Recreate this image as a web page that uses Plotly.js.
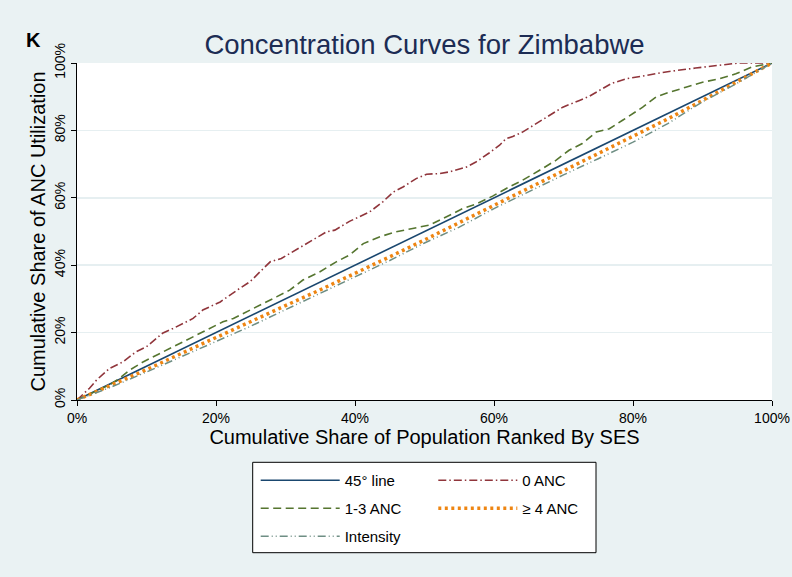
<!DOCTYPE html>
<html>
<head>
<meta charset="utf-8">
<script src="https://cdn.plot.ly/plotly-3.0.1.min.js"></script>
<style>
  html, body { margin: 0; padding: 0; background: #eaf2f3; }
  #chart { width: 792px; height: 577px; }
</style>
</head>
<body>
<div id="chart"></div>
<script>
// Cumulative share of population (x, %) and of ANC utilization (y, %)
const lineX = [0, 100];
const lineY = [0, 100];

const anc0X = [0, 1.8, 2.8, 4.7, 6.6, 8.5, 10.0, 12.3, 13.8, 15.7, 16.7, 18.1, 19.3, 20.6, 23.4, 24.9, 26.8, 27.8, 29.4, 31.1, 33.5, 35.9, 37.1, 39.2, 42.1, 44.0, 45.5, 46.9, 48.8, 50.3, 52.2, 53.6, 56.0, 57.4, 59.3, 60.8, 61.7, 62.7, 64.1, 66.5, 68.0, 69.9, 72.3, 73.7, 75.6, 77.0, 79.0, 80.4, 82.3, 85.2, 89.0, 91.4, 93.8, 95.2, 100];
const anc0Y = [0, 3.5, 5.9, 9.4, 11.3, 14.3, 15.8, 19.8, 21.2, 23.2, 24.2, 26.7, 27.9, 29.1, 33.1, 35.1, 39.0, 41.0, 42.0, 44.0, 46.9, 49.9, 50.4, 53.0, 55.8, 58.8, 61.7, 63.2, 65.7, 67.0, 67.2, 67.7, 69.1, 70.6, 73.3, 75.6, 77.5, 78.2, 79.5, 82.5, 84.4, 86.9, 88.9, 90.1, 92.4, 94.0, 95.3, 95.8, 96.3, 97.5, 98.5, 99.0, 99.7, 100, 100];

const anc13X = [0, 2.5, 4.7, 6.1, 7.6, 9.5, 11.4, 13.8, 15.7, 18.1, 19.8, 21.0, 22.5, 23.9, 26.3, 28.7, 30.6, 32.5, 34.9, 37.3, 39.2, 41.2, 43.5, 45.9, 48.3, 50.7, 53.1, 55.5, 57.4, 59.8, 61.7, 64.1, 66.5, 68.9, 70.8, 72.7, 74.7, 76.6, 78.5, 80.4, 81.4, 83.3, 85.2, 87.6, 90.0, 92.4, 94.8, 97.1, 100];
const anc13Y = [0, 2.5, 4.5, 6.4, 8.9, 11.3, 13.3, 15.8, 17.8, 20.2, 22.0, 23.2, 24.2, 25.7, 28.1, 30.6, 32.6, 35.6, 38.0, 41.0, 43.0, 46.4, 48.4, 49.9, 50.9, 51.9, 54.3, 56.8, 58.1, 60.5, 62.7, 65.2, 68.1, 71.1, 74.1, 76.1, 79.5, 80.5, 83.0, 85.4, 86.9, 89.9, 91.3, 92.8, 94.3, 95.3, 96.8, 98.8, 100];

const anc4X = [0, 5, 10, 15, 20, 25, 30, 35, 40, 45, 50, 55, 60, 65, 70, 75, 80, 85, 90, 95, 100];
const anc4Y = [0, 4.4, 9.0, 13.8, 18.6, 23.3, 28.0, 32.7, 37.5, 42.5, 47.5, 52.6, 57.7, 62.8, 67.9, 73.0, 78.1, 83.4, 88.9, 94.4, 100];

const intensityX = [0, 5, 10, 15, 20, 25, 30, 35, 40, 45, 50, 55, 60, 65, 70, 75, 80, 85, 90, 95, 100];
const intensityY = [0, 3.9, 8.3, 12.8, 17.3, 21.9, 26.8, 31.6, 36.4, 41.4, 46.6, 51.3, 56.8, 61.9, 66.8, 71.6, 76.5, 82.0, 88.5, 94.0, 100];

const tickValues = [0, 20, 40, 60, 80, 100];
const tickLabels = ['0%', '20%', '40%', '60%', '80%', '100%'];

const FONT = 'Liberation Sans, Arial, sans-serif';

// plot-area geometry in pixels, used to place the paper-referenced legend box
const PL = 77, PR = 772, PT = 63, PB = 400;
const px2x = p => (p - PL) / (PR - PL);
const px2y = p => (PB - p) / (PB - PT);

const traces = [
  { x: lineX, y: lineY, name: '45° line', legend: 'legend', legendgroup: 'a',
    mode: 'lines', line: { color: '#1a476f', width: 1.6 } },
  { x: anc0X, y: anc0Y, name: '0 ANC', legend: 'legend2', legendgroup: 'b',
    mode: 'lines', line: { color: '#90353b', width: 1.6, dash: '8px,3px,1.5px,3px' } },
  { x: anc13X, y: anc13Y, name: '1-3 ANC', legend: 'legend', legendgroup: 'c',
    mode: 'lines', line: { color: '#55752f', width: 1.6, dash: '8px,4.5px' } },
  { x: anc4X, y: anc4Y, name: '≥ 4 ANC', legend: 'legend2', legendgroup: 'd',
    mode: 'lines', line: { color: '#ee8512', width: 3.5, dash: '3px,3.5px' } },
  { x: intensityX, y: intensityY, name: 'Intensity', legend: 'legend', legendgroup: 'e',
    mode: 'lines', line: { color: '#6e8e84', width: 1.5, dash: '8px,3px,1px,3px,1px,3px' } }
];

const legendBase = {
  xref: 'paper', yref: 'paper', xanchor: 'left', yanchor: 'top',
  bgcolor: 'rgba(0,0,0,0)', borderwidth: 0,
  font: { family: FONT, size: 15, color: '#000' },
  itemwidth: 79, traceorder: 'grouped', tracegroupgap: 5.5,
  orientation: 'v'
};

const layout = {
  width: 792, height: 577,
  paper_bgcolor: '#eaf2f3', plot_bgcolor: '#ffffff',
  margin: { l: PL, r: 792 - PR, t: PT, b: 577 - PB, autoexpand: false },
  font: { family: FONT, size: 14, color: '#000' },
  title: {
    text: 'Concentration Curves for Zimbabwe',
    font: { family: FONT, size: 27.5, color: '#1c2c54' },
    x: 0.5, xref: 'paper', xanchor: 'center',
    y: 1 - 44 / 577, yref: 'container', yanchor: 'middle'
  },
  xaxis: {
    range: [0, 100], tickmode: 'array', tickvals: tickValues, ticktext: tickLabels,
    showgrid: false, zeroline: false,
    showline: true, linecolor: '#000', linewidth: 1,
    ticks: 'outside', ticklen: 5, tickcolor: '#000',
    tickfont: { family: FONT, size: 14, color: '#000' },
    title: { text: 'Cumulative Share of Population Ranked By SES',
             font: { family: FONT, size: 20, color: '#000' }, standoff: 2 }
  },
  yaxis: {
    range: [0, 100], tickmode: 'array', tickvals: tickValues, ticktext: tickLabels, tickangle: -90,
    showgrid: true, gridcolor: '#e6eff1', gridwidth: 1.5, zeroline: false,
    showline: true, linecolor: '#000', linewidth: 1,
    ticks: 'outside', ticklen: 5, tickcolor: '#000',
    tickfont: { family: FONT, size: 14, color: '#000' },
    title: { text: 'Cumulative Share of ANC Utilization',
             font: { family: FONT, size: 20, color: '#000' }, standoff: 1 }
  },
  legend: Object.assign({}, legendBase, { x: px2x(255.7), y: px2y(464) }),
  legend2: Object.assign({}, legendBase, { x: px2x(433.3), y: px2y(464) }),
  shapes: [{
    type: 'rect', xref: 'paper', yref: 'paper', layer: 'below',
    x0: px2x(252.7), x1: px2x(596), y0: px2y(552.7), y1: px2y(462.3),
    fillcolor: '#ffffff', line: { color: '#000', width: 1 }
  }],
  annotations: [{
    text: '<b>K</b>', xref: 'paper', yref: 'paper',
    x: px2x(33), y: px2y(40), xanchor: 'center', yanchor: 'middle',
    showarrow: false, font: { family: FONT, size: 20, color: '#000' }
  }]
};

Plotly.newPlot('chart', traces, layout, { displayModeBar: false, staticPlot: true });
</script>
</body>
</html>
